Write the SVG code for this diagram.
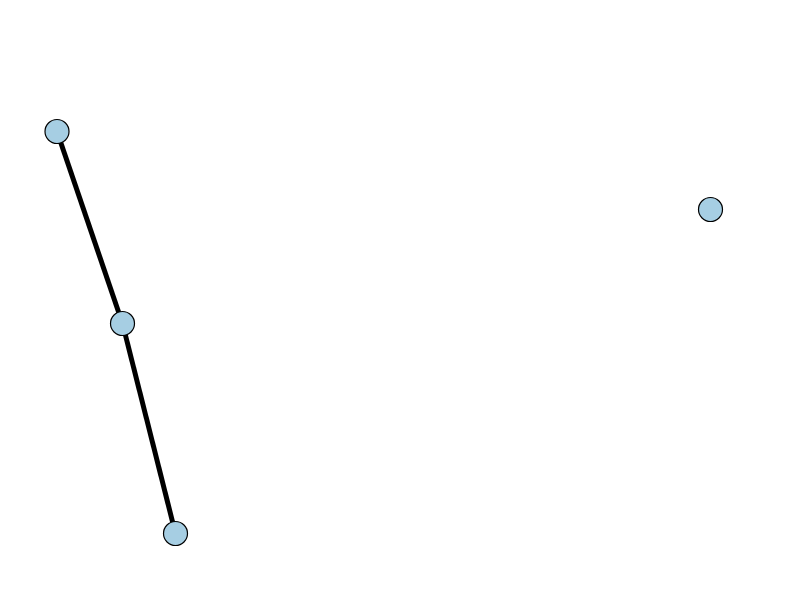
<svg xmlns="http://www.w3.org/2000/svg" width="800" height="600" viewBox="0 0 800 600">
<style>
.node{fill:#a6cee3;stroke:#000;stroke-width:1.2}
.edge{stroke:#000;stroke-width:5;fill:none}
</style>
<rect width="800" height="600" fill="#fff"/>
<g id="edges">
<line class="edge" x1="57" y1="131.5" x2="122.5" y2="323.5"/>
<line class="edge" x1="122.5" y1="323.5" x2="175.5" y2="533.5"/>
</g>
<g id="n0"><circle class="node" cx="57" cy="131.5" r="12"/></g>
<g id="n1"><circle class="node" cx="122.5" cy="323.5" r="12"/></g>
<g id="n2"><circle class="node" cx="175.5" cy="533.5" r="12"/></g>
<g id="n3"><circle class="node" cx="710.5" cy="209.5" r="12"/></g>
</svg>
